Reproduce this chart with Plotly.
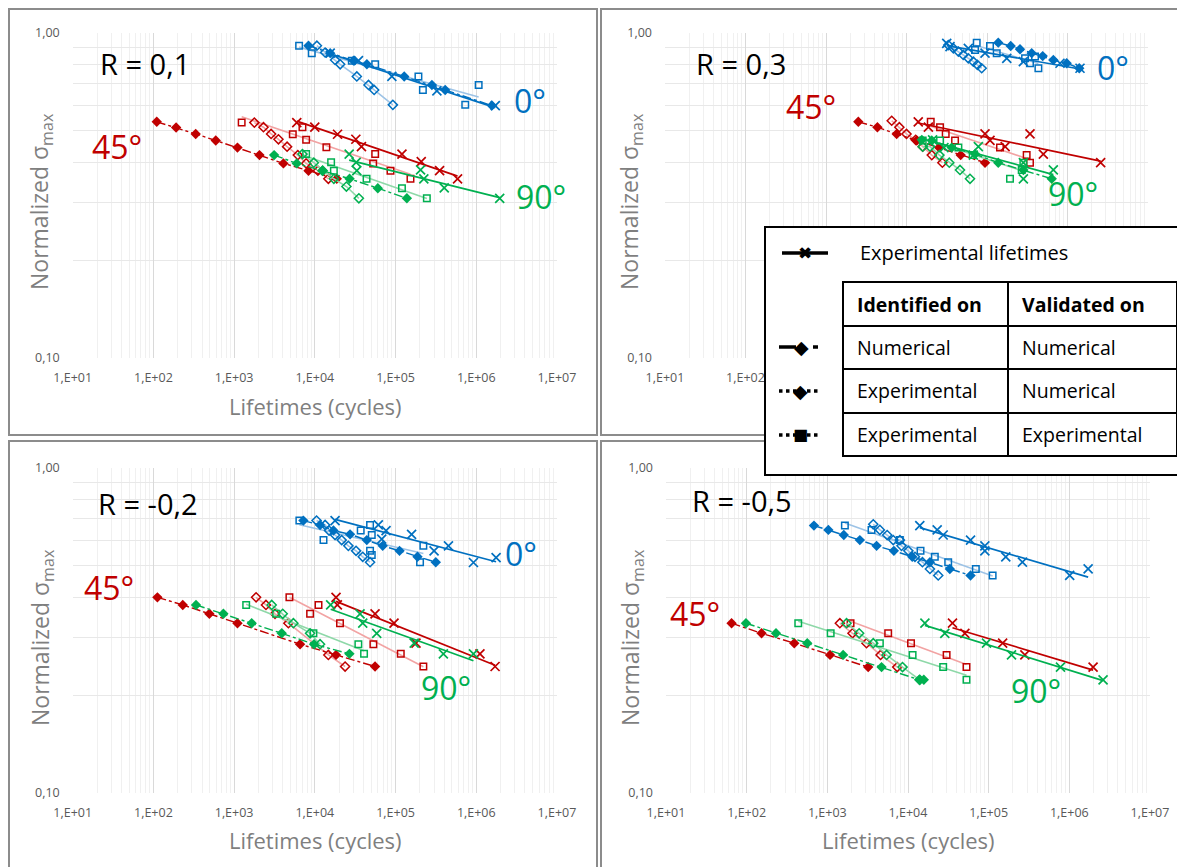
import numpy as np
import plotly.graph_objects as go

# --- values: (lifetime in cycles, normalized sigma_max) ---
# EXP = experimental lifetimes (x), NN = identified num. / validated num. (filled diamond)
# EN = identified exp. / validated num. (open diamond), EE = identified exp. / validated exp. (square)

# R = 0,1
R01_0_EXP = [(1.55e4, 0.867), (3.47e4, 0.822), (9.0e4, 0.735), (3.25e5, 0.664), (1.72e6, 0.598)]
R01_0_NN = [(8.34e3, 0.914), (1.55e4, 0.867), (3.01e4, 0.822), (4.41e4, 0.801), (1.28e5, 0.735),
            (2.82e5, 0.692), (4.12e5, 0.668), (1.56e6, 0.598)]
R01_0_EN = [(1.06e4, 0.914), (1.34e4, 0.871), (1.78e4, 0.826), (2.06e4, 0.801), (3.31e4, 0.735),
            (4.62e4, 0.692), (5.43e4, 0.668), (9.25e4, 0.601)]
R01_0_EE = [(6.38e3, 0.914), (9.16e3, 0.867), (2.87e4, 0.822), (5.59e4, 0.801), (1.92e5, 0.735),
            (2.18e5, 0.668), (1.07e6, 0.692), (7.3e5, 0.601)]
R01_45_EXP = [(5.97e3, 0.530), (9.98e3, 0.513), (1.91e4, 0.488), (3.22e4, 0.471), (3.78e4, 0.447),
              (1.20e5, 0.424), (2.08e5, 0.402), (3.51e5, 0.377), (5.86e5, 0.356)]
R01_45_NN = [(110, 0.533), (191, 0.512), (334, 0.489), (592, 0.467), (1.10e3, 0.444), (2.06e3, 0.421),
             (4.08e3, 0.397), (8.34e3, 0.377), (1.87e4, 0.356)]
R01_45_EN = [(1.78e3, 0.530), (2.31e3, 0.513), (2.87e3, 0.489), (3.54e3, 0.471), (4.53e3, 0.447),
             (6.15e3, 0.421), (7.80e3, 0.397), (1.09e4, 0.377), (1.47e4, 0.356)]
R01_45_EE = [(1.24e3, 0.530), (7.02e3, 0.513), (5.33e3, 0.488), (7.80e3, 0.469), (1.39e4, 0.445),
             (5.59e4, 0.424), (5.28e4, 0.397), (8.65e4, 0.377), (1.53e5, 0.356)]
R01_90_EXP = [(2.66e4, 0.424), (3.25e4, 0.400), (3.31e4, 0.377), (2.04e5, 0.379), (2.24e5, 0.356),
              (4.01e5, 0.334), (1.95e6, 0.310)]
R01_90_NN = [(3.13e3, 0.421), (5.97e3, 0.397), (1.24e4, 0.377), (2.69e4, 0.356), (6.03e4, 0.333), (1.38e5, 0.310)]
R01_90_EN = [(7.02e3, 0.424), (9.71e3, 0.399), (1.25e4, 0.377), (1.72e4, 0.356), (2.46e4, 0.337), (3.51e4, 0.310)]
R01_90_EE = [(7.80e3, 0.424), (1.59e4, 0.400), (1.72e4, 0.377), (4.37e4, 0.356), (1.20e5, 0.333), (2.44e5, 0.310)]

# R = 0,3
R03_0_EXP = [(3.16e4, 0.929), (3.47e4, 0.908), (5.86e4, 0.897), (9.45e4, 0.867), (1.76e5, 0.836),
             (2.83e5, 0.816), (8.07e5, 0.807), (1.43e6, 0.779)]
R03_0_NN = [(1.38e5, 0.934), (1.97e5, 0.912), (2.57e5, 0.891), (3.59e5, 0.867), (4.92e5, 0.849),
            (6.67e5, 0.826), (9.77e5, 0.807), (1.40e6, 0.779)]
R03_0_EN = [(3.31e4, 0.918), (3.82e4, 0.897), (4.41e4, 0.877), (5.08e4, 0.856), (5.86e4, 0.836),
            (6.77e4, 0.816), (7.59e4, 0.798), (8.59e4, 0.779)]
R03_0_EE = [(7.45e4, 0.934), (1.09e5, 0.912), (7.10e4, 0.887), (1.32e5, 0.867), (2.97e5, 0.836),
            (3.95e5, 0.846), (3.42e5, 0.807), (4.35e5, 0.779)]
R03_45_EXP = [(1.40e4, 0.533), (1.87e4, 0.513), (9.45e4, 0.489), (1.09e5, 0.467), (3.42e5, 0.489),
              (1.68e5, 0.447), (5.01e5, 0.424), (2.58e6, 0.399)]
R03_45_NN = [(2.52e3, 0.533), (4.35e3, 0.513), (7.55e3, 0.489), (1.34e4, 0.467), (2.54e4, 0.444),
             (4.71e4, 0.421), (9.45e4, 0.399)]
R03_45_EN = [(6.55e3, 0.537), (8.15e3, 0.513), (1.00e4, 0.489), (1.30e4, 0.469), (1.59e4, 0.447),
             (2.06e4, 0.421), (2.79e4, 0.399)]
R03_45_EE = [(2.00e4, 0.533), (2.61e4, 0.513), (3.07e4, 0.489), (4.01e4, 0.467), (1.45e5, 0.444),
             (3.11e5, 0.421), (3.42e5, 0.399)]
R03_90_EXP = [(2.11e4, 0.469), (2.92e4, 0.444), (7.81e4, 0.447), (6.77e4, 0.421), (2.83e5, 0.399),
              (6.67e5, 0.379), (2.83e5, 0.356)]
R03_90_NN = [(1.55e4, 0.469), (2.06e4, 0.467), (3.64e4, 0.444), (7.10e4, 0.424), (1.38e5, 0.399),
             (2.83e5, 0.379), (6.37e5, 0.356)]
R03_90_EN = [(1.59e4, 0.447), (1.96e4, 0.447), (2.56e4, 0.421), (3.40e4, 0.399), (4.62e4, 0.379), (6.15e4, 0.356)]
R03_90_EE = [(1.59e4, 0.467), (2.61e4, 0.467), (4.41e4, 0.444), (6.64e4, 0.421), (2.83e5, 0.399),
             (2.70e5, 0.379), (1.93e5, 0.356)]

# R = -0,2
RM02_0_EXP = [(1.78e4, 0.689), (6.12e4, 0.668), (7.62e4, 0.642), (1.58e5, 0.625), (6.74e4, 0.604),
              (3.00e5, 0.556), (4.52e5, 0.576), (9.22e5, 0.512), (1.76e6, 0.530)]
RM02_0_NN = [(7.21e3, 0.689), (1.16e4, 0.668), (1.70e4, 0.642), (2.73e4, 0.625), (4.40e4, 0.600),
             (6.93e4, 0.576), (1.12e5, 0.556), (1.87e5, 0.533), (3.15e5, 0.513)]
RM02_0_EN = [(1.05e4, 0.689), (1.34e4, 0.668), (1.50e4, 0.642), (1.78e4, 0.622), (2.15e4, 0.600),
             (2.60e4, 0.576), (3.24e4, 0.556), (3.92e4, 0.533), (4.83e4, 0.513)]
RM02_0_EE = [(6.43e3, 0.689), (1.28e4, 0.600), (3.70e4, 0.642), (4.83e4, 0.668), (5.07e4, 0.622),
             (5.07e4, 0.540), (2.21e5, 0.576), (2.01e5, 0.513), (4.83e4, 0.556)]
RM02_45_EXP = [(1.83e4, 0.400), (1.90e4, 0.379), (5.57e4, 0.356), (9.57e4, 0.333), (1.79e5, 0.289),
               (1.11e6, 0.268), (1.71e6, 0.245)]
RM02_45_NN = [(112, 0.400), (231, 0.379), (493, 0.356), (1.10e3, 0.333), (6.56e3, 0.287), (1.83e4, 0.266), (5.57e4, 0.245)]
RM02_45_EN = [(1.87e3, 0.400), (2.48e3, 0.379), (3.21e3, 0.356), (4.70e3, 0.333), (1.47e4, 0.266), (2.37e4, 0.245)]
RM02_45_EE = [(4.84e3, 0.400), (1.11e4, 0.379), (8.73e3, 0.356), (2.05e4, 0.333), (5.31e4, 0.287),
              (1.16e5, 0.268), (2.21e5, 0.245)]
RM02_90_EXP = [(1.57e4, 0.379), (3.63e4, 0.356), (3.92e4, 0.333), (5.84e4, 0.310), (1.70e5, 0.289),
               (3.91e5, 0.268), (9.22e5, 0.268)]
RM02_90_NN = [(337, 0.379), (736, 0.356), (1.65e3, 0.333), (3.89e3, 0.310), (9.78e3, 0.287), (2.68e4, 0.268)]
RM02_90_EN = [(2.92e3, 0.379), (4.00e3, 0.356), (5.42e3, 0.333), (8.73e3, 0.310), (1.16e4, 0.287)]
RM02_90_EE = [(1.41e3, 0.379), (3.31e3, 0.356), (9.60e3, 0.310), (3.46e4, 0.287), (4.07e4, 0.268)]

# R = -0,5
RM05_0_EXP = [(1.40e4, 0.665), (2.30e4, 0.645), (2.73e4, 0.622), (5.96e4, 0.600), (8.97e4, 0.576),
              (8.97e4, 0.556), (1.63e5, 0.533), (2.62e5, 0.513), (1.01e6, 0.467), (1.71e6, 0.489)]
RM05_0_NN = [(682, 0.665), (1.03e3, 0.645), (1.60e3, 0.622), (2.53e3, 0.600), (4.08e3, 0.576),
             (6.68e3, 0.556), (1.13e4, 0.533), (1.87e4, 0.513), (3.30e4, 0.489), (5.96e4, 0.467)]
RM05_0_EN = [(3.71e3, 0.671), (4.48e3, 0.645), (5.52e3, 0.622), (6.56e3, 0.600), (7.93e3, 0.600),
             (8.31e3, 0.576), (1.01e4, 0.556), (1.22e4, 0.533), (1.51e4, 0.513), (1.87e4, 0.489), (2.37e4, 0.467)]
RM05_0_EE = [(1.65e3, 0.665), (3.53e3, 0.645), (7.93e3, 0.600), (1.43e4, 0.556), (2.15e4, 0.533),
             (3.15e4, 0.513), (6.93e4, 0.489), (1.12e5, 0.467)]
RM05_45_EXP = [(3.56e4, 0.333), (5.07e4, 0.310), (1.49e5, 0.289), (2.81e5, 0.266), (1.97e6, 0.244)]
RM05_45_NN = [(65, 0.333), (153, 0.310), (389, 0.289), (1.08e3, 0.266), (3.21e3, 0.244)]
RM05_45_EN = [(1.43e3, 0.333), (2.05e3, 0.310), (3.06e3, 0.289), (4.57e3, 0.266), (7.35e3, 0.244)]
RM05_45_EE = [(1.94e3, 0.333), (5.68e3, 0.310), (1.09e4, 0.289), (3.01e4, 0.266), (5.31e4, 0.244)]
RM05_90_EXP = [(1.62e4, 0.333), (2.86e4, 0.310), (9.4e4, 0.289), (1.92e5, 0.266), (7.77e5, 0.244), (2.62e6, 0.223)]
RM05_90_NN = [(98, 0.333), (231, 0.310), (564, 0.289), (1.57e3, 0.266), (4.70e3, 0.244), (1.38e4, 0.223), (1.57e4, 0.223)]
RM05_90_EN = [(1.73e3, 0.333), (2.48e3, 0.310), (3.71e3, 0.289), (5.42e3, 0.266), (8.55e3, 0.244), (1.40e4, 0.223)]
RM05_90_EE = [(436, 0.333), (1.10e3, 0.310), (4.48e3, 0.289), (1.14e4, 0.266), (2.73e4, 0.244), (5.31e4, 0.223)]

X_TICKS = [1e1, 1e2, 1e3, 1e4, 1e5, 1e6, 1e7]
X_TICKTEXT = ["1,E+01", "1,E+02", "1,E+03", "1,E+04", "1,E+05", "1,E+06", "1,E+07"]
# top-right panel: labels past 1,E+02 sit under the legend box
X_TICKTEXT_COVERED = ["1,E+01", "1,E+02", "", "", "", "", ""]
Y_TICKS = [0.1, 1.0]
Y_TICKTEXT = ["0,10", "1,00"]

# --- layout constants (pixels of the 1185x867 picture) ---
W, H = 1185, 867
SHIFT = 8  # the page body puts the figure 8px in from the top-left corner
BLUE, RED, GREEN = "#0070C0", "#C00000", "#00B050"
LIGHT = {BLUE: "#9DC3E6", RED: "#F2A3A3", GREEN: "#8ED8A8"}
GREY = "#7F7F7F"
FONT = "'Open Sans', Lato, sans-serif"


def px(x):
    return (x - SHIFT) / W


def py(y):
    return 1 - (y - SHIFT) / H


PANELS = [
    dict(n="", label=("R = 0,1", 145, 63), plot=(72.7, 33, 557, 358), frame=(9, 9, 597, 435),
         groups=[(BLUE, R01_0_EXP, R01_0_NN, R01_0_EN, R01_0_EE),
                 (RED, R01_45_EXP, R01_45_NN, R01_45_EN, R01_45_EE),
                 (GREEN, R01_90_EXP, R01_90_NN, R01_90_EN, R01_90_EE)],
         angles=[("0°", BLUE, 530, 100), ("45°", RED, 117, 147), ("90°", GREEN, 541, 196)],
         ytitle=(41, 202), xtitle=(315, 406), xticktext=X_TICKTEXT),
    dict(n="2", label=("R = 0,3", 741, 63), plot=(665, 33, 1148, 358), frame=(601, 9, 1200, 435),
         groups=[(BLUE, R03_0_EXP, R03_0_NN, R03_0_EN, R03_0_EE),
                 (RED, R03_45_EXP, R03_45_NN, R03_45_EN, R03_45_EE),
                 (GREEN, R03_90_EXP, R03_90_NN, R03_90_EN, R03_90_EE)],
         angles=[("0°", BLUE, 1113, 67), ("45°", RED, 811, 107), ("90°", GREEN, 1073, 193)],
         ytitle=(631, 202), xtitle=None, xticktext=X_TICKTEXT_COVERED),
    dict(n="3", label=("R = -0,2", 148, 503), plot=(72.7, 468, 557, 793), frame=(9, 441, 597, 885),
         groups=[(BLUE, RM02_0_EXP, RM02_0_NN, RM02_0_EN, RM02_0_EE),
                 (RED, RM02_45_EXP, RM02_45_NN, RM02_45_EN, RM02_45_EE),
                 (GREEN, RM02_90_EXP, RM02_90_NN, RM02_90_EN, RM02_90_EE)],
         angles=[("0°", BLUE, 521, 553), ("45°", RED, 109, 587), ("90°", GREEN, 446, 687)],
         ytitle=(41, 638), xtitle=(315, 840), xticktext=X_TICKTEXT),
    dict(n="4", label=("R = -0,5", 742, 500), plot=(666, 468, 1150, 793), frame=(601, 441, 1200, 885),
         groups=[(BLUE, RM05_0_EXP, RM05_0_NN, RM05_0_EN, RM05_0_EE),
                 (RED, RM05_45_EXP, RM05_45_NN, RM05_45_EN, RM05_45_EE),
                 (GREEN, RM05_90_EXP, RM05_90_NN, RM05_90_EN, RM05_90_EE)],
         angles=[("45°", RED, 695, 613), ("90°", GREEN, 1036, 690)],
         ytitle=(631, 638), xtitle=(908, 840), xticktext=X_TICKTEXT),
]


def trend(pts):
    # power-law trendline over the data range, like the spreadsheet's
    lx = np.log10([p[0] for p in pts])
    ly = np.log10([p[1] for p in pts])
    k, b = np.polyfit(lx, ly, 1)
    xs = np.array([lx.min(), lx.max()])
    return 10 ** xs, 10 ** (k * xs + b)


def xy(pts, sort=False):
    pts = sorted(pts) if sort else pts
    return [p[0] for p in pts], [p[1] for p in pts]


def add_group(fig, n, color, exp, nn, en, ee):
    ax = dict(xaxis="x" + n, yaxis="y" + n, showlegend=False, hoverinfo="skip")
    light = LIGHT[color]

    tx, ty = trend(ee)
    fig.add_trace(go.Scatter(x=tx, y=ty, mode="lines", line=dict(color=light, width=1.6), **ax))

    x, y = xy(en, sort=True)
    fig.add_trace(go.Scatter(x=x, y=y, mode="lines+markers", line=dict(color=light, width=1.6),
                             marker=dict(symbol="diamond-open", size=7, color=color,
                                         line=dict(color=color, width=1.5)), **ax))

    x, y = xy(ee)
    fig.add_trace(go.Scatter(x=x, y=y, mode="markers",
                             marker=dict(symbol="square-open", size=6.5, color=color,
                                         line=dict(color=color, width=1.5)), **ax))

    x, y = xy(nn, sort=True)
    fig.add_trace(go.Scatter(x=x, y=y, mode="lines+markers", line=dict(color=color, width=1.4, dash="dashdot"),
                             marker=dict(symbol="diamond", size=8, color=color), **ax))

    tx, ty = trend(exp)
    fig.add_trace(go.Scatter(x=tx, y=ty, mode="lines", line=dict(color=color, width=1.7), **ax))
    x, y = xy(exp)
    fig.add_trace(go.Scatter(x=x, y=y, mode="markers",
                             marker=dict(symbol="x-thin-open", size=9, color=color,
                                         line=dict(color=color, width=1.7)), **ax))


fig = go.Figure()
shapes, annotations = [], []
minor_x = [m * 10 ** e for e in range(1, 7) for m in range(2, 10)]
minor_y = [m / 10 for m in range(2, 10)]

for p in PANELS:
    n = p["n"]
    x0, y0, x1, y1 = p["plot"]
    for g in p["groups"]:
        add_group(fig, n, *g)

    fig.layout["xaxis" + n] = dict(
        type="log", range=[1, 7], domain=[px(x0), px(x1)], anchor="y" + n, automargin=False,
        tickmode="array", tickvals=X_TICKS, ticktext=p["xticktext"],
        showgrid=True, gridcolor="#D9D9D9", gridwidth=1, zeroline=False, showline=False, ticks="",
        minor=dict(tickvals=minor_x, showgrid=True, gridcolor="#F0F0F0", gridwidth=1),
        tickfont=dict(size=12.5, color="#595959", family=FONT), ticklabelstandoff=10,
    )
    fig.layout["yaxis" + n] = dict(
        type="log", range=[-1, 0], domain=[py(y1), py(y0)], anchor="x" + n, automargin=False,
        tickmode="array", tickvals=Y_TICKS, ticktext=Y_TICKTEXT,
        showgrid=True, gridcolor="#D9D9D9", gridwidth=1, zeroline=False, showline=False, ticks="",
        minor=dict(tickvals=minor_y, showgrid=True, gridcolor="#E8E8E8", gridwidth=1),
        tickfont=dict(size=12.5, color="#595959", family=FONT), ticklabelstandoff=12,
    )

    fx0, fy0, fx1, fy1 = p["frame"]
    shapes.append(dict(type="rect", xref="paper", yref="paper", x0=px(fx0), x1=px(fx1), y0=py(fy1), y1=py(fy0),
                       line=dict(color="#8C8C8C", width=2), layer="below"))

    text, lx, ly = p["label"]
    annotations.append(dict(text=text, x=px(lx), y=py(ly), xref="paper", yref="paper", showarrow=False,
                            xanchor="center", yanchor="middle", font=dict(size=29, color="black", family=FONT)))
    for t, c, ax_, ay_ in p["angles"]:
        annotations.append(dict(text=t, x=px(ax_), y=py(ay_), xref="paper", yref="paper", showarrow=False,
                                xanchor="center", yanchor="middle", font=dict(size=32, color=c, family=FONT)))
    tx_, ty_ = p["ytitle"]
    annotations.append(dict(text="Normalized σ<sub>max</sub>", x=px(tx_), y=py(ty_), xref="paper", yref="paper",
                            showarrow=False, textangle=-90, xanchor="center", yanchor="middle",
                            font=dict(size=23, color=GREY, family=FONT)))
    if p["xtitle"]:
        tx_, ty_ = p["xtitle"]
        annotations.append(dict(text="Lifetimes (cycles)", x=px(tx_), y=py(ty_), xref="paper", yref="paper",
                                showarrow=False, xanchor="center", yanchor="middle",
                                font=dict(size=22, color=GREY, family=FONT)))

# --- legend table (drawn on top) ---
def line(xa, ya, xb, yb, width=2, dash="solid"):
    shapes.append(dict(type="line", xref="paper", yref="paper", x0=px(xa), y0=py(ya), x1=px(xb), y1=py(yb),
                       line=dict(color="black", width=width, dash=dash), layer="above"))


shapes.append(dict(type="rect", xref="paper", yref="paper", x0=px(765), x1=px(1183), y0=py(475), y1=py(227),
                   fillcolor="white", line=dict(color="black", width=2), layer="above"))
shapes.append(dict(type="rect", xref="paper", yref="paper", x0=px(843), x1=px(1177), y0=py(456), y1=py(282),
                   line=dict(color="black", width=2), layer="above"))
for yy in (326, 369, 413):
    line(843, yy, 1177, yy)
line(1008, 282, 1008, 456)

# legend glyph strokes
line(782, 253, 828, 253, width=3.5)
line(779, 347, 796, 347, width=3.5)
line(813, 347, 818, 347, width=3.5)
line(779, 391, 821, 391, width=3.5, dash="dot")
line(779, 435, 821, 435, width=3.5, dash="dot")


def note(text, x, y, size=19.5, color="black", anchor="left", family=FONT):
    annotations.append(dict(text=text, x=px(x), y=py(y), xref="paper", yref="paper", showarrow=False,
                            xanchor=anchor, yanchor="middle", font=dict(size=size, color=color, family=family)))


note("✖", 805, 253, size=17, anchor="center", family="DejaVu Sans")
note("◆", 801, 347, size=19, anchor="center", family="DejaVu Sans")
note("◆", 800, 391, size=19, anchor="center", family="DejaVu Sans")
note("■", 800, 435, size=16, anchor="center", family="DejaVu Sans")

note("Experimental lifetimes", 858, 253, size=20)
note("<b>Identified on</b>", 855, 304)
note("<b>Validated on</b>", 1020, 304)
note("Numerical", 855, 347)
note("Numerical", 1020, 347)
note("Experimental", 855, 391)
note("Numerical", 1020, 391)
note("Experimental", 855, 435)
note("Experimental", 1020, 435)

fig.update_layout(
    width=W, height=H, margin=dict(l=0, r=0, t=0, b=0),
    paper_bgcolor="white", plot_bgcolor="white",
    font=dict(family=FONT), showlegend=False,
    shapes=shapes, annotations=annotations,
)

fig.write_html("out.html")
